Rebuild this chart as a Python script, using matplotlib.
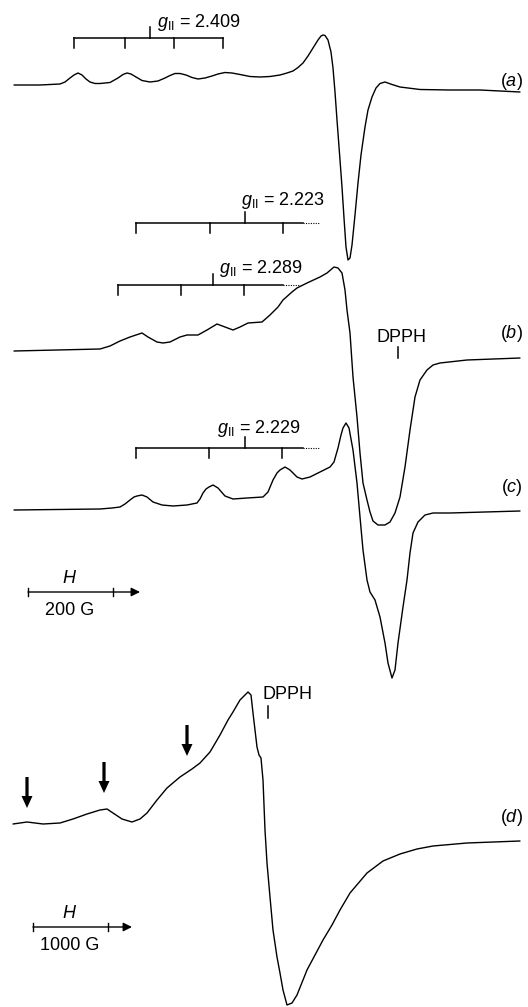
# EPR spectra (a)-(d) with hyperfine bars, re-drawn from the figure
import numpy as np
import matplotlib.pyplot as plt

plt.rcParams['font.family'] = ['Liberation Sans', 'DejaVu Sans']
plt.rcParams['mathtext.fontset'] = 'custom'
plt.rcParams['mathtext.rm'] = 'Liberation Sans'
plt.rcParams['mathtext.it'] = 'Liberation Sans:italic'

# --- traced spectra: field position (arb.), signal (arb., + is up) ---
field_a = [14, 40, 60, 65, 70, 74, 78, 82, 86, 90, 95, 100, 110, 118, 123, 127,
           131, 136, 142, 150, 158, 165, 170, 175, 180, 186, 192, 198, 205, 212,
           218, 225, 232, 240, 250, 260, 270, 280, 287, 293, 298, 303, 308, 313,
           318, 321, 323, 325, 328, 331, 333, 335, 337, 340, 342, 344, 346, 348,
           350, 352, 355, 358, 361, 365, 368, 372, 376, 380, 385, 392, 400, 420,
           450, 480, 520]
signal_a = [0, 0, 1, 3, 7, 10, 12, 10, 6, 3, 1.5, 1.5, 2.5, 7, 10.5, 12,
            11, 8, 4.5, 3, 4, 7, 9.5, 11.5, 11.5, 10, 7.5, 6, 7, 9,
            11, 12.5, 12, 10.5, 8.5, 8, 8.5, 10, 12, 14, 17.5, 22, 29, 37,
            45, 49, 50, 49.5, 45, 33, 17, -7, -35, -75, -102, -133, -162, -175,
            -173, -160, -130, -98, -70, -42, -25, -12, -3, 1.5, 3, 0.5, -2, -4.5,
            -5, -5, -7]

field_b = [14, 100, 110, 120, 130, 142, 148, 157, 163, 170, 180, 187, 198, 207,
           217, 225, 233, 240, 248, 262, 270, 278, 283, 292, 297, 307, 320, 327,
           334, 338, 342, 345, 347, 350, 353, 357, 360, 363, 367, 370, 373, 378,
           385, 390, 395, 400, 405, 410, 415, 420, 427, 433, 440, 467, 520]
signal_b = [0, 2, 5, 10, 14, 18, 14, 9, 8, 9, 14, 16, 16, 21,
            27, 24, 21, 24, 28, 29, 36, 44, 51, 59, 63, 68, 74, 78,
            84, 83, 78, 61, 41, 18, -26, -66, -102, -132, -149, -161, -170, -174,
            -174, -171, -162, -146, -116, -79, -46, -29, -19, -14, -12, -9, -7]

field_c = [14, 100, 112, 120, 125, 130, 134, 137, 142, 147, 153, 162, 173, 187,
           197, 200, 203, 206, 209, 213, 218, 225, 233, 247, 263, 268, 273, 277,
           280, 285, 290, 297, 302, 310, 320, 330, 334, 338, 341, 343, 346, 349,
           353, 357, 360, 363, 367, 370, 375, 380, 385, 388, 392, 395, 398, 403,
           407, 410, 413, 418, 425, 433, 450, 520]
signal_c = [0, 1, 2, 3, 6, 10, 13, 14, 15, 13, 8, 5, 4, 5,
            7, 11, 17, 21, 23, 25, 22, 14, 11, 12, 13, 18, 30, 37,
            40, 43, 40, 33, 31, 33, 38, 43, 48, 62, 75, 82, 87, 82,
            60, 27, -7, -40, -70, -82, -90, -107, -133, -153, -168, -160, -133, -97,
            -70, -43, -23, -12, -5, -3, -3, -1]

field_d = [13, 27, 43, 60, 73, 87, 100, 107, 113, 122, 132, 140, 147, 157, 167,
           180, 192, 200, 210, 220, 228, 233, 240, 245, 248, 251, 253, 255, 257,
           259, 261, 263, 265, 267, 270, 273, 277, 280, 283, 287, 292, 297, 307,
           315, 323, 332, 340, 350, 367, 383, 400, 417, 433, 467, 520]
signal_d = [0, 2, 0, 1, 5, 10, 14, 15, 11, 5, 2, 5, 11, 24, 36,
            47, 55, 61, 72, 89, 104, 112, 124, 129, 132, 129, 111, 94, 77,
            69, 66, 44, -6, -39, -73, -106, -133, -149, -166, -181, -179, -171, -146,
            -131, -116, -101, -86, -69, -49, -37, -30, -25, -22, -19, -17]

# hyperfine stick patterns: tick fields, g-marker field, label
hf_ticks = [[74, 125, 174, 223], [136, 210, 283], [118, 181, 244], [136, 209, 282]]
hf_center = [150, 245, 213, 245]
hf_end = [223, 303, 283, 303]
hf_dotted_end = [None, 320, 300, 319]
hf_labels = ['2.409', '2.223', '2.289', '2.229']

panel_labels = ['a', 'b', 'c', 'd']
arrow_fields = [27, 104, 187]

# --- layout (pixel space) ---
baselines = [85, 351, 510, 824]
label_y = [82, 334, 487, 818]
hf_y = [38, 223, 285, 448]
hf_text = [(157, 27), (241, 205), (219, 273), (217, 433)]
arrow_top = [777, 762, 725]

fig = plt.figure(figsize=(5.28, 10.07), dpi=100)
ax = fig.add_axes([0, 0, 1, 1])
ax.set_xlim(0, 528)
ax.set_ylim(1007, 0)
ax.axis('off')

fs = 13
for f, s, b in zip([field_a, field_b, field_c, field_d],
                   [signal_a, signal_b, signal_c, signal_d], baselines):
    ax.plot(f, b - np.array(s), color='k', lw=1.0,
            solid_joinstyle='round', solid_capstyle='round')

for lab, y in zip(panel_labels, label_y):
    ax.text(523, y, '($\\mathit{%s}$)' % lab, ha='right', va='center', fontsize=fs)

# hyperfine bars
for ticks, c, e, de, lab, y, (tx, ty) in zip(hf_ticks, hf_center, hf_end, hf_dotted_end,
                                            hf_labels, hf_y, hf_text):
    ax.plot([ticks[0], e], [y, y], color='k', lw=1.1)
    if de is not None:
        ax.plot([e, de], [y, y], color='k', lw=0.8, ls=(0, (1, 1.2)))
    for t in ticks:
        ax.plot([t, t], [y, y + 10], color='k', lw=1.1)
    ax.plot([c, c], [y, y - 11], color='k', lw=1.1)
    ax.text(tx, ty, '$g_{\\mathrm{II}}$ = ' + lab, ha='left', va='baseline', fontsize=fs)

# DPPH markers
ax.text(402, 342, 'DPPH', ha='center', va='baseline', fontsize=fs)
ax.plot([398, 398], [347, 358], color='k', lw=1.1)
ax.text(288, 699, 'DPPH', ha='center', va='baseline', fontsize=fs)
ax.plot([268, 268], [706, 718], color='k', lw=1.1)

# thick arrows on (d)
for x, yt in zip(arrow_fields, arrow_top):
    ax.arrow(x, yt, 0, 31, width=3.2, head_width=11, head_length=12,
             length_includes_head=True, fc='k', ec='none')

# field scale bars
for (x0, x1, x2, y, txt) in [(28, 113, 140, 592, '200 G'), (33, 108, 132, 927, '1000 G')]:
    ax.annotate('', xy=(x2, y), xytext=(x0, y),
                arrowprops=dict(arrowstyle='-|>', lw=1.0, color='k',
                                mutation_scale=13, shrinkA=0, shrinkB=0))
    ax.plot([x0, x0], [y - 4, y + 4], color='k', lw=1.0)
    ax.plot([x1, x1], [y - 4, y + 4], color='k', lw=1.0)
    ax.text(70, y - 9, '$\\mathit{H}$', ha='center', va='baseline', fontsize=fs)
    ax.text(70, y + 23, txt, ha='center', va='baseline', fontsize=fs)

fig.savefig('out.png', dpi=100)
